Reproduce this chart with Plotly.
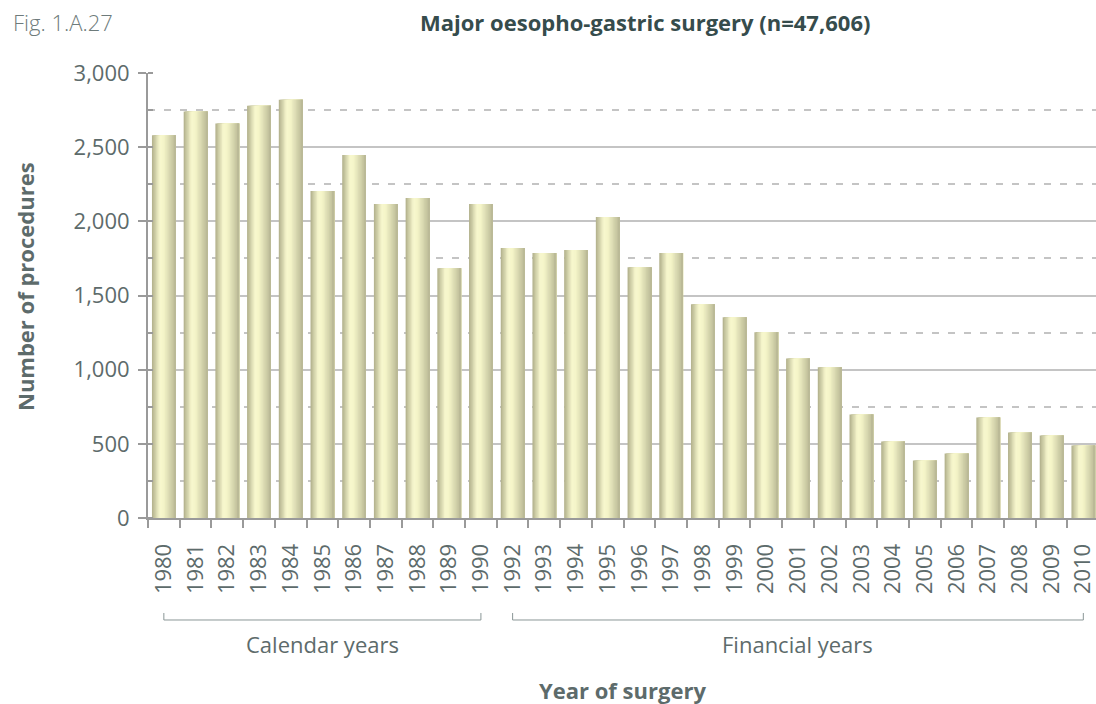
import plotly.graph_objects as go

years = ['1980', '1981', '1982', '1983', '1984', '1985', '1986', '1987', '1988', '1989', '1990',
         '1992', '1993', '1994', '1995', '1996', '1997', '1998', '1999', '2000', '2001', '2002',
         '2003', '2004', '2005', '2006', '2007', '2008', '2009', '2010']
procedures = [2580, 2740, 2660, 2780, 2820, 2205, 2448, 2117, 2157, 1684, 2117,
              1820, 1786, 1806, 2029, 1691, 1786, 1441, 1353, 1252, 1076, 1016,
              698, 515, 387, 434, 678, 576, 556, 489]
y_ticks = [0, 500, 1000, 1500, 2000, 2500, 3000]
y_tick_labels = ['0', '500', '1,000', '1,500', '2,000', '2,500', '3,000']
groups = [('Calendar years', '1980', '1990'), ('Financial years', '1992', '2010')]

FONT = 'Open Sans'
TXT = '#5d6b6b'
AX = '#9a9a9a'
GRID = '#c4c4c4'

# horizontal gradient for bars, approximated with stacked stripes
stops = [(0.0, (176, 175, 138)), (0.33, (248, 248, 206)), (0.5, (244, 244, 200)), (1.0, (184, 183, 148))]


def grad(t):
    for (t0, c0), (t1, c1) in zip(stops[:-1], stops[1:]):
        if t <= t1:
            f = (t - t0) / (t1 - t0)
            return 'rgb(%d,%d,%d)' % tuple(round(a + (b - a) * f) for a, b in zip(c0, c1))
    return 'rgb(%d,%d,%d)' % stops[-1][1]


BW = 0.75
N = 18
s = BW / N
XR = [-0.5, 29.4]
fig = go.Figure()
for k in range(N):
    fig.add_trace(go.Bar(
        x=years, y=procedures,
        offset=-BW / 2 + k * s, width=BW - k * s,
        marker=dict(color=grad((k + 0.5) / N), line=dict(width=0)),
        showlegend=False, hoverinfo='skip' if k else None,
    ))

L, R, T, B = 148, 0, 73, 186
W, H = 1096, 704
pw, ph = W - L - R, H - T - B


def px(xp):
    return (xp - L) / pw


def py(yp):
    return (H - B - yp) / ph


def cx(cat):
    # paper x of a category centre, from the x axis range
    return (years.index(cat) - XR[0]) / (XR[1] - XR[0])


shapes = []
ann = []
for label, a, b in groups:
    yb, yt = py(620), py(613)
    xa, xb = cx(a), cx(b)
    shapes.append(dict(type='path', xref='paper', yref='paper',
                       path='M %f %f L %f %f L %f %f L %f %f' % (xa, yt, xa, yb, xb, yb, xb, yt),
                       line=dict(color='#8a9696', width=1)))
    ann.append(dict(text=label, xref='paper', yref='paper', x=(xa + xb) / 2, y=py(644),
                    showarrow=False, xanchor='center', yanchor='middle',
                    font=dict(family=FONT, size=22, color=TXT)))

ann += [
    dict(text='Fig. 1.A.27', xref='paper', yref='paper', x=px(11), y=py(22), xanchor='left',
         yanchor='middle', showarrow=False, font=dict(family=FONT, size=22, color='#6e7b7b', weight=300)),
    dict(text='<b>Major oesopho-gastric surgery (n=47,606)</b>', xref='paper', yref='paper',
         x=px(645), y=py(22), xanchor='center', yanchor='middle', showarrow=False,
         font=dict(family=FONT, size=22, color='#364c4c')),
    dict(text='<b>Number of procedures</b>', xref='paper', yref='paper', x=px(25), y=py(287),
         xanchor='center', yanchor='middle', textangle=-90, showarrow=False,
         font=dict(family=FONT, size=22, color=TXT)),
    dict(text='<b>Year of surgery</b>', xref='paper', yref='paper', x=px(622), y=py(690),
         xanchor='center', yanchor='middle', showarrow=False,
         font=dict(family=FONT, size=22, color=TXT)),
]

fig.update_layout(
    width=W, height=H,
    margin=dict(l=L, r=R, t=T, b=B, pad=0),
    paper_bgcolor='white', plot_bgcolor='white',
    barmode='overlay',
    font=dict(family=FONT, size=22, color=TXT),
    shapes=shapes, annotations=ann,
    xaxis=dict(type='category', categoryorder='array', categoryarray=years,
               range=XR, showgrid=False, showline=True, linecolor=AX, linewidth=2,
               ticks='outside', tickson='boundaries', ticklen=8, tickwidth=2, tickcolor=AX,
               tickangle=-90, tickfont=dict(family=FONT, size=22, color=TXT),
               ticklabelstandoff=15, zeroline=False),
    yaxis=dict(range=[0, 3000], tickmode='array', tickvals=y_ticks, ticktext=y_tick_labels,
               showline=True, linecolor=AX, linewidth=2, ticks='outside', ticklen=8, tickwidth=2,
               tickcolor=AX, tickfont=dict(family=FONT, size=22, color=TXT),
               showgrid=True, gridcolor=GRID, gridwidth=2, zeroline=False, ticklabelstandoff=4,
               minor=dict(dtick=250, tick0=0, showgrid=True, gridcolor=GRID, gridwidth=2,
                          griddash='7px,9px', ticks='inside', ticklen=5, tickwidth=2, tickcolor=AX)),
)

fig.write_html('out.html', config={'displayModeBar': False},
               post_script="document.body.style.margin='0';document.body.style.overflow='hidden';")
